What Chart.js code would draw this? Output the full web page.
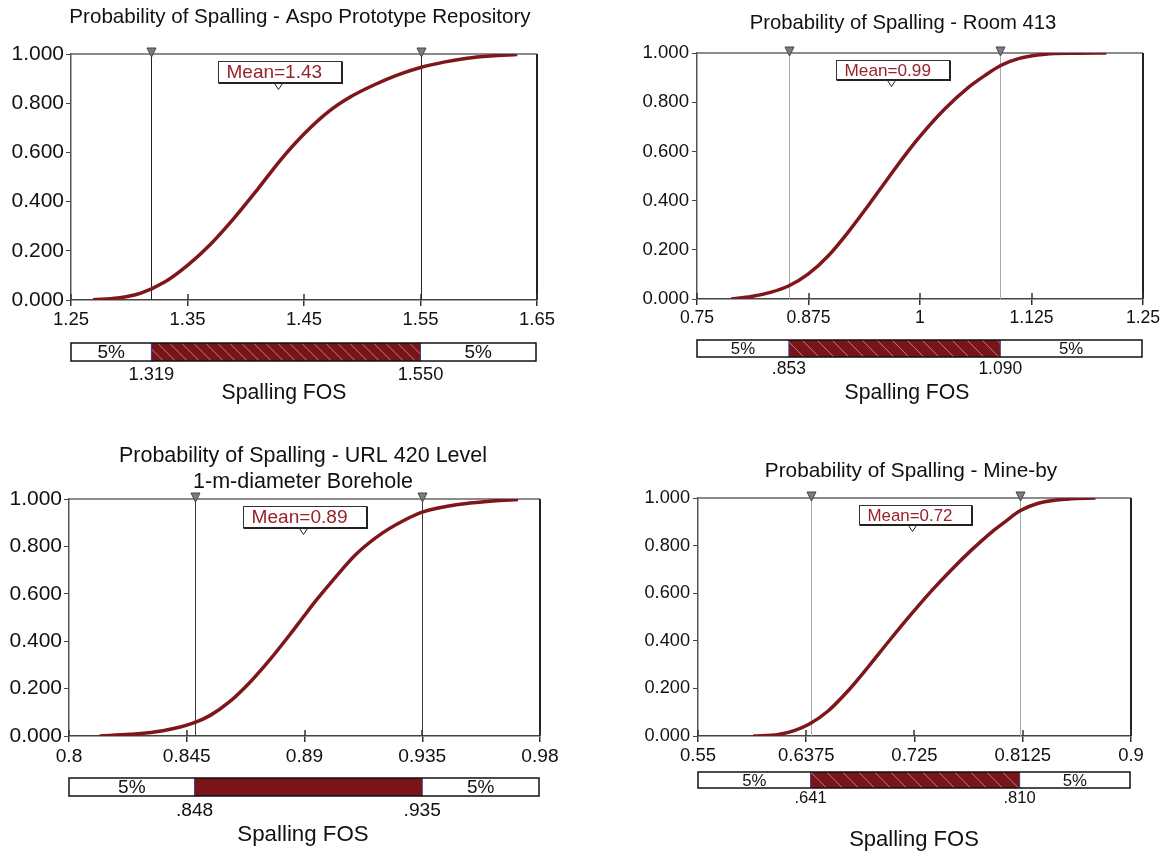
<!DOCTYPE html>
<html>
<head>
<meta charset="utf-8">
<script src="https://cdn.jsdelivr.net/npm/chart.js@4.4.1/dist/chart.umd.min.js"></script>
<style>
  body { margin: 0; background: #fff; width: 1174px; height: 856px; position: relative; overflow: hidden; }
  .panel { position: absolute; width: 587px; height: 428px; }
</style>
</head>
<body>
<div class="panel" style="left:0;top:0"><canvas id="c0"></canvas></div>
<div class="panel" style="left:587px;top:0"><canvas id="c1"></canvas></div>
<div class="panel" style="left:0;top:428px"><canvas id="c2"></canvas></div>
<div class="panel" style="left:587px;top:428px"><canvas id="c3"></canvas></div>
<script>
// ---- data ----
const titles = [
    ['Probability of Spalling - Aspo Prototype Repository'],
    ['Probability of Spalling - Room 413'],
    ['Probability of Spalling - URL 420 Level', '1-m-diameter Borehole'],
    ['Probability of Spalling - Mine-by']
];
const xAxisTitle = 'Spalling FOS';

const aspoFos  = [1.269, 1.29, 1.31, 1.33, 1.35, 1.37, 1.39, 1.41, 1.43, 1.45, 1.47, 1.49, 1.51, 1.53, 1.55, 1.57, 1.59, 1.61, 1.633];
const aspoProb = [0.001, 0.008, 0.028, 0.072, 0.141, 0.228, 0.333, 0.449, 0.570, 0.675, 0.762, 0.826, 0.874, 0.914, 0.945, 0.967, 0.983, 0.992, 0.998];

const roomFos  = [0.7884, 0.8109, 0.8333, 0.8532, 0.8745, 0.897, 0.9195, 0.942, 0.9644, 0.9831, 1.0019, 1.028, 1.0543, 1.073, 1.091, 1.1104, 1.1404, 1.175, 1.209];
const roomProb = [0.000, 0.010, 0.028, 0.054, 0.101, 0.175, 0.272, 0.380, 0.492, 0.584, 0.669, 0.773, 0.860, 0.909, 0.950, 0.977, 0.995, 0.999, 1.000];

const urlFos  = [0.8117, 0.8232, 0.8359, 0.8474, 0.8538, 0.8614, 0.869, 0.8767, 0.8843, 0.8894, 0.8945, 0.9022, 0.9098, 0.920, 0.9302, 0.9353, 0.948, 0.962, 0.9716];
const urlProb = [0.000, 0.007, 0.022, 0.054, 0.086, 0.145, 0.225, 0.321, 0.426, 0.500, 0.573, 0.675, 0.768, 0.858, 0.922, 0.946, 0.976, 0.992, 0.998];

const minebyFos  = [0.5947, 0.6149, 0.6284, 0.6397, 0.6554, 0.6715, 0.6877, 0.7039, 0.7227, 0.7389, 0.7551, 0.7712, 0.7874, 0.7982, 0.8103, 0.8251, 0.8494, 0.8713];
const minebyProb = [0.000, 0.006, 0.024, 0.049, 0.106, 0.191, 0.291, 0.396, 0.514, 0.611, 0.700, 0.782, 0.857, 0.900, 0.946, 0.978, 0.996, 1.000];

const xTicks = [
    [1.25, 1.35, 1.45, 1.55, 1.65],
    [0.75, 0.875, 1, 1.125, 1.25],
    [0.8, 0.845, 0.89, 0.935, 0.98],
    [0.55, 0.6375, 0.725, 0.8125, 0.9]
];
const yTicks = [0, 0.2, 0.4, 0.6, 0.8, 1];

const p5  = [1.319, 0.853, 0.848, 0.641];
const p95 = [1.550, 1.090, 0.935, 0.810];
const tailPct = ['5%', '5%'];
const meanLabels = ['Mean=1.43', 'Mean=0.99', 'Mean=0.89', 'Mean=0.72'];
const meanValues = [1.428, 0.967, 0.8896, 0.7233];

const series = [[aspoFos, aspoProb], [roomFos, roomProb], [urlFos, urlProb], [minebyFos, minebyProb]];

// ---- layout / style per panel (local canvas coords) ----
const FONT = '"Liberation Sans", Arial, sans-serif';
const CURVE = '#7e161b';
const W = 587, H = 428, Y_AXIS_W = 62, X_AXIS_H = 30;
const panels = [
    { area: [71, 54, 537, 300], titleX: 300, titleY: [17], barTop: 343, barH: 18, pctY: 375, fosX: 284, fosY: 393, yPad: 2,
      fs: { title: 20.6, yt: 21, xt: 18.5, mean: 19, tail: 19, pct: 18.3, fos: 21.2 }, lineCol: '#222', hatch: 12 },
    { area: [110, 53, 556, 299], titleX: 316, titleY: [23], barTop: 340, barH: 17, pctY: 369, fosX: 320, fosY: 393, yPad: 3,
      fs: { title: 20.3, yt: 18.6, xt: 17.6, mean: 17.2, tail: 16.8, pct: 17.5, fos: 21.2 }, lineCol: '#a8a8a8', hatch: 15 },
    { area: [69, 71, 540, 308], titleX: 303, titleY: [28, 54], barTop: 350, barH: 18, pctY: 383, fosX: 303, fosY: 407, yPad: 2,
      fs: { title: 21.5, yt: 21, xt: 19.2, mean: 19.1, tail: 19, pct: 19.2, fos: 22.3 }, lineCol: '#3a3a3a', hatch: 0 },
    { area: [111, 70, 544, 308], titleX: 324, titleY: [43], barTop: 344, barH: 16, pctY: 370, fosX: 327, fosY: 412, yPad: 3,
      fs: { title: 20.8, yt: 18.2, xt: 18.5, mean: 16.9, tail: 16.8, pct: 16.6, fos: 22 }, lineCol: '#a8a8a8', hatch: 16 }
];

function fmtPct(v) {
    const s = v.toFixed(3);
    return s.startsWith('0') ? s.slice(1) : s;
}

function downTriangle(ctx, x, yTop, w, h, fill, stroke) {
    ctx.beginPath();
    ctx.moveTo(x - w / 2, yTop);
    ctx.lineTo(x + w / 2, yTop);
    ctx.lineTo(x, yTop + h);
    ctx.closePath();
    ctx.fillStyle = fill;
    ctx.fill();
    ctx.lineWidth = 1;
    ctx.strokeStyle = stroke;
    ctx.stroke();
}

function overlayPlugin(i) {
    const cfg = panels[i];
    return {
        id: 'overlay' + i,
        beforeDatasetsDraw(chart) {
            const { ctx, chartArea: a, scales: { x } } = chart;
            ctx.save();
            // plot box: grey top, dark right
            ctx.lineWidth = 1.5;
            ctx.strokeStyle = '#666';
            ctx.beginPath(); ctx.moveTo(a.left, a.top); ctx.lineTo(a.right, a.top); ctx.stroke();
            ctx.lineWidth = 2;
            ctx.strokeStyle = '#222';
            ctx.beginPath(); ctx.moveTo(a.right, a.top); ctx.lineTo(a.right, a.bottom); ctx.stroke();
            // inner part of x ticks
            ctx.lineWidth = 1.5;
            ctx.strokeStyle = '#333';
            xTicks[i].forEach(v => {
                const px = Math.round(x.getPixelForValue(v));
                ctx.beginPath(); ctx.moveTo(px, a.bottom); ctx.lineTo(px, a.bottom - 6); ctx.stroke();
            });
            // 5% / 95% lines
            ctx.lineWidth = 1;
            ctx.strokeStyle = cfg.lineCol;
            [p5[i], p95[i]].forEach(v => {
                const px = Math.round(x.getPixelForValue(v)) + 0.5;
                ctx.beginPath(); ctx.moveTo(px, a.top); ctx.lineTo(px, a.bottom); ctx.stroke();
            });
            ctx.restore();
        },
        afterDraw(chart) {
            const { ctx, chartArea: a, scales: { x } } = chart;
            const fs = cfg.fs;
            ctx.save();
            // title
            ctx.fillStyle = '#111';
            ctx.textAlign = 'center';
            ctx.textBaseline = 'middle';
            ctx.font = fs.title + 'px ' + FONT;
            titles[i].forEach((t, k) => ctx.fillText(t, cfg.titleX, cfg.titleY[k]));

            // triangles on top of the percentile lines
            [p5[i], p95[i]].forEach(v => {
                const px = Math.round(x.getPixelForValue(v)) + 0.5;
                downTriangle(ctx, px, a.top - 6, 9, 9, '#7d7d7d', '#444');
            });

            // mean box
            ctx.font = fs.mean + 'px ' + FONT;
            const mx = x.getPixelForValue(meanValues[i]);
            const tw = ctx.measureText(meanLabels[i]).width;
            const bx = Math.round(mx - tw * 0.63) + 0.5;
            const bw = Math.round(tw + 27);
            const bh = Math.round(fs.mean + 2);
            const by = a.top + 7.5;
            ctx.fillStyle = '#fff';
            ctx.fillRect(bx, by, bw, bh);
            ctx.strokeStyle = '#333';
            ctx.lineWidth = 1;
            ctx.strokeRect(bx, by, bw, bh);
            ctx.lineWidth = 2;
            ctx.strokeStyle = '#222';
            ctx.beginPath(); ctx.moveTo(bx, by + bh + 0.5); ctx.lineTo(bx + bw + 0.5, by + bh + 0.5); ctx.lineTo(bx + bw + 0.5, by); ctx.stroke();
            ctx.fillStyle = '#98222a';
            ctx.textAlign = 'left';
            ctx.fillText(meanLabels[i], bx + 8, by + bh / 2 + 1);
            downTriangle(ctx, Math.round(mx) + 0.5, by + bh + 1, 8, 6, '#fff', '#222');

            // percentile bar
            const left = a.left, right = a.right - 1;
            const x5 = x.getPixelForValue(p5[i]), x95 = x.getPixelForValue(p95[i]);
            const top = cfg.barTop, h = cfg.barH;
            ctx.fillStyle = '#7a1418';
            ctx.fillRect(x5, top, x95 - x5, h);
            if (cfg.hatch) {
                ctx.save();
                ctx.beginPath(); ctx.rect(x5, top, x95 - x5, h); ctx.clip();
                ctx.strokeStyle = 'rgba(185,165,165,0.8)';
                ctx.lineWidth = 1;
                for (let s = x5 - h; s < x95; s += cfg.hatch) {
                    ctx.beginPath(); ctx.moveTo(s, top); ctx.lineTo(s + h, top + h); ctx.stroke();
                }
                ctx.restore();
            }
            ctx.strokeStyle = '#3c3c8c';
            ctx.lineWidth = 1;
            [x5, x95].forEach(px => { ctx.beginPath(); ctx.moveTo(px, top); ctx.lineTo(px, top + h); ctx.stroke(); });
            ctx.strokeStyle = '#111';
            ctx.lineWidth = 1.5;
            ctx.strokeRect(left, top, right - left, h);

            ctx.fillStyle = '#111';
            ctx.textAlign = 'center';
            ctx.font = fs.tail + 'px ' + FONT;
            ctx.fillText(tailPct[0], (left + x5) / 2, top + h / 2 + 1);
            ctx.fillText(tailPct[1], (x95 + right) / 2, top + h / 2 + 1);
            ctx.font = fs.pct + 'px ' + FONT;
            ctx.fillText(fmtPct(p5[i]), x5, cfg.pctY);
            ctx.fillText(fmtPct(p95[i]), x95, cfg.pctY);
            ctx.font = fs.fos + 'px ' + FONT;
            ctx.fillText(xAxisTitle, cfg.fosX, cfg.fosY);
            ctx.restore();
        }
    };
}

function buildChart(i) {
    const cfg = panels[i];
    const [L, T, R, B] = cfg.area;
    const [fos, prob] = series[i];
    const ticksX = xTicks[i];
    return new Chart(document.getElementById('c' + i), {
        type: 'line',
        data: {
            datasets: [{
                data: fos.map((v, k) => ({ x: v, y: prob[k] })),
                borderColor: CURVE,
                borderWidth: 3.5,
                pointRadius: 0,
                fill: false,
                cubicInterpolationMode: 'monotone'
            }]
        },
        options: {
            responsive: true,
            maintainAspectRatio: false,
            devicePixelRatio: 1,
            animation: false,
            layout: { padding: { left: L - Y_AXIS_W, top: T, right: W - R, bottom: H - B - X_AXIS_H } },
            plugins: { legend: { display: false }, tooltip: { enabled: false }, title: { display: false } },
            scales: {
                x: {
                    type: 'linear',
                    min: ticksX[0],
                    max: ticksX[ticksX.length - 1],
                    afterBuildTicks: s => { s.ticks = ticksX.map(v => ({ value: v })); },
                    afterFit: s => { s.height = X_AXIS_H; },
                    grid: { drawOnChartArea: false, drawTicks: true, tickLength: 6, color: '#333', lineWidth: 1.5 },
                    border: { color: '#444', width: 1.5 },
                    ticks: { color: '#111', padding: 3, maxRotation: 0, autoSkip: false,
                             font: { family: FONT, size: cfg.fs.xt }, callback: v => String(v) }
                },
                y: {
                    min: 0,
                    max: 1,
                    afterBuildTicks: s => { s.ticks = yTicks.map(v => ({ value: v })); },
                    afterFit: s => { s.width = Y_AXIS_W; },
                    grid: { drawOnChartArea: false, drawTicks: true, tickLength: 5, color: '#444', lineWidth: 1 },
                    border: { color: '#555', width: 1.5 },
                    ticks: { color: '#111', padding: cfg.yPad, font: { family: FONT, size: cfg.fs.yt },
                             callback: v => v.toFixed(3) }
                }
            }
        },
        plugins: [overlayPlugin(i)]
    });
}

[0, 1, 2, 3].forEach(buildChart);
</script>
</body>
</html>
